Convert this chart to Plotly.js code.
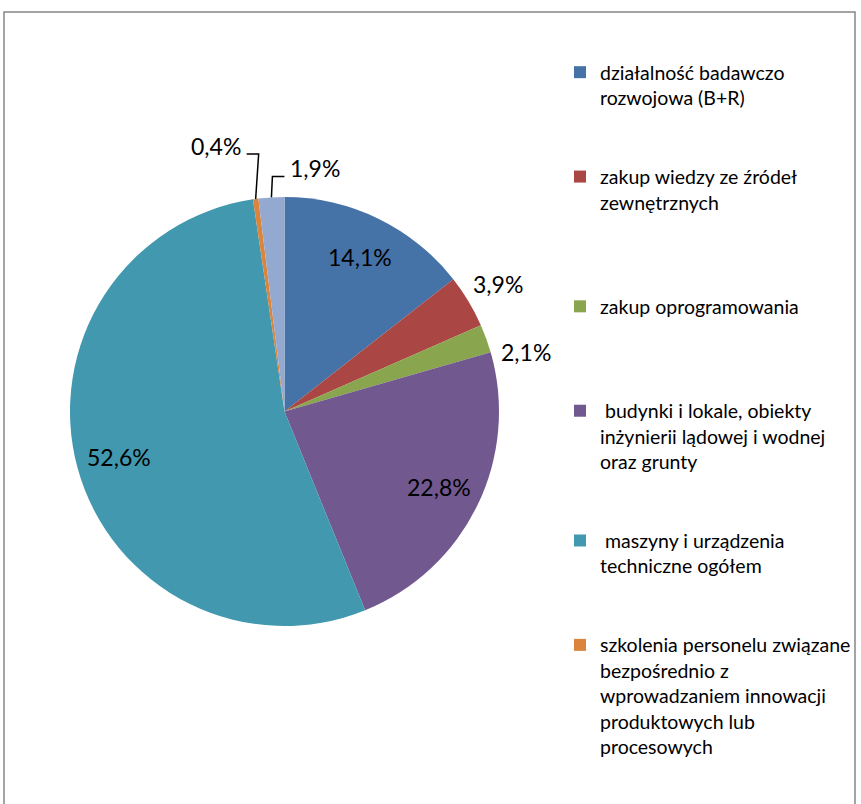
<!DOCTYPE html>
<html>
<head>
<meta charset="utf-8">
<script src="https://cdn.plot.ly/plotly-3.0.1.min.js"></script>
<style>
html,body{margin:0;padding:0;background:#fff;overflow:hidden;}
#chart{width:861px;height:1000px;}
</style>
</head>
<body>
<div id="chart"></div>
<script>
// ---- data ----
// the 7th category's legend entry lies below the visible area of the reference (its name is not shown)
const categories = [
  "działalność badawczo<br>rozwojowa (B+R)",
  "zakup wiedzy ze źródeł<br>zewnętrznych",
  "zakup oprogramowania",
  "\u00a0budynki i lokale, obiekty<br>inżynierii lądowej i wodnej<br>oraz grunty",
  "\u00a0maszyny i urządzenia<br>techniczne ogółem",
  "szkolenia personelu związane<br>bezpośrednio z<br>wprowadzaniem innowacji<br>produktowych lub<br>procesowych",
  "\u00a0"
];
const values = [14.1, 3.9, 2.1, 22.8, 52.6, 0.4, 1.9];
const valueLabels = ["14,1%", "3,9%", "2,1%", "22,8%", "52,6%", "0,4%", "1,9%"];
const colors = ["#4572A7", "#AA4643", "#89A54E", "#71588F", "#4198AF", "#DB843D", "#93A9CF"];

// ---- layout constants ----
const W = 861, H = 1000;           // figure is taller than the 804px window (bottom cropped like the reference)
const CX = 284.5, CY = 411.5, R = 214.5;
const FONT = "Lato, 'Open Sans', sans-serif";
const spacerLines = [2, 3, 3, 2, 2, 2, 0];
// label placement: "in" = inside at 0.8R, "out" = outside at 1.16R, leader = elbow leader line
const labelMode = ["in", "out", "out", "in", "in", "leaderL", "leaderR"];
const labelNudgeDeg = [0, 0, 6, 0, 0, 0, 0];

const legendLabels = categories.map((c, i) => c + "<br>\u00a0".repeat(spacerLines[i]));
const px = x => x / W, py = y => 1 - y / H;

const trace = {
  type: "pie",
  labels: legendLabels,
  values: values,
  textinfo: "none",
  sort: false,
  direction: "clockwise",
  rotation: 0,
  marker: {colors: colors, line: {width: 0}},
  domain: {x: [px(CX - R), px(CX + R)], y: [py(CY + R), py(CY - R)]},
  hoverinfo: "none"
};

// data labels placed at each slice's mid-angle, computed from the values
const total = values.reduce((a, b) => a + b, 0);
const annotations = [], shapes = [];
let cum = 0;
values.forEach((v, i) => {
  const mid = (cum + v / 2) / total * 2 * Math.PI;
  cum += v;
  const a = mid + labelNudgeDeg[i] * Math.PI / 180;
  const s = Math.sin(a), c = Math.cos(a);
  const base = {xref: "paper", yref: "paper", text: valueLabels[i], showarrow: false,
                font: {family: FONT, size: 23, color: "#000"}, yanchor: "middle"};
  if (labelMode[i] === "in" || labelMode[i] === "out") {
    const k = labelMode[i] === "in" ? 0.8 : 1.16;
    annotations.push(Object.assign(base, {x: px(CX + k * R * s), y: py(CY - k * R * c), xanchor: "center"}));
  } else {
    const ex = CX + R * s, ey = CY - R * c;
    const dir = labelMode[i] === "leaderL" ? -1 : 1;
    const rise = labelMode[i] === "leaderL" ? 45 : 21;
    const elx = ex - dir * 3 + (dir > 0 ? 4 : 0), ely = ey - rise;
    const endx = elx + dir * 12;
    shapes.push({type: "path", xref: "paper", yref: "paper",
      path: `M${px(ex)},${py(ey)} L${px(elx)},${py(ely)} L${px(endx)},${py(ely)}`,
      line: {color: "#000", width: 1.5}});
    annotations.push(Object.assign(base, {x: px(endx + dir * 4), y: py(ely - 8),
      xanchor: dir < 0 ? "right" : "left"}));
  }
});

shapes.unshift({
  type: "rect", xref: "paper", yref: "paper",
  x0: px(4), x1: px(855), y0: -0.1, y1: py(12),
  line: {color: "#868686", width: 1.5},
  fillcolor: "rgba(0,0,0,0)", layer: "below"
});

const layout = {
  width: W, height: H,
  margin: {l: 0, r: 0, t: 0, b: 0},
  paper_bgcolor: "#fff",
  plot_bgcolor: "#fff",
  showlegend: true,
  legend: {
    x: px(560), xanchor: "left",
    y: py(53), yanchor: "top",
    valign: "top",
    font: {family: FONT, size: 19.5, color: "#000"},
    bgcolor: "rgba(0,0,0,0)",
    borderwidth: 0,
    traceorder: "normal"
  },
  annotations: annotations,
  shapes: shapes
};

Plotly.newPlot("chart", [trace], layout, {displayModeBar: false, staticPlot: true});
</script>
</body>
</html>
